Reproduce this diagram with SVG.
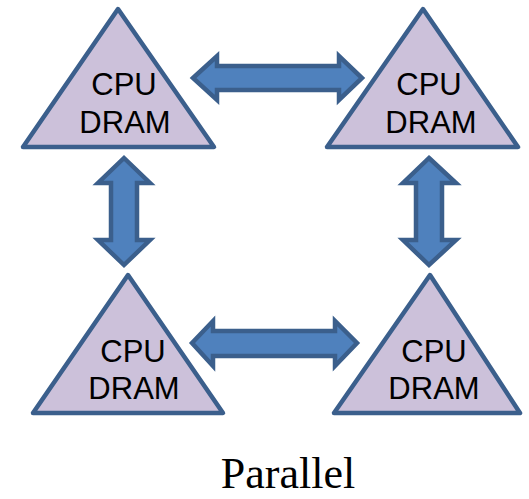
<svg xmlns="http://www.w3.org/2000/svg" width="529" height="499" viewBox="0 0 529 499">
<style>
.tri{fill:#ccc1da;stroke:#3b5f8c;stroke-width:4.5;stroke-linejoin:round}
.arr{fill:#4f81bd;stroke:#3b5f8c;stroke-width:4.5;stroke-linejoin:miter}
.lbl{font-family:"Liberation Sans",Arial,sans-serif;font-size:31px;fill:#000;text-anchor:middle}
.cap{font-family:"Liberation Serif","Times New Roman",serif;font-size:44px;fill:#000;text-anchor:middle}
</style>
<rect width="529" height="499" fill="#fff"/>
<g id="connectors">
<path class="arr" d="M193,78 L217,56 L217,66 L339,66 L339,56 L362,78 L339,100 L339,90 L217,90 L217,100 Z"/>
<path class="arr" d="M192,343 L213,321 L213,331 L335,331 L335,321 L357,343 L335,366 L335,356 L213,356 L213,366 Z"/>
<path class="arr" d="M124,158 L150,183 L137,183 L137,240 L150,240 L124,265 L98,240 L111,240 L111,183 L98,183 Z"/>
<path class="arr" d="M429,158 L456,183 L442,183 L442,240 L456,240 L429,265 L403,240 L416,240 L416,183 L403,183 Z"/>
</g>
<g id="node-tl">
<polygon class="tri" points="118,9 214,147 23,147"/>
<text class="lbl" x="124" y="95">CPU</text>
<text class="lbl" x="125" y="133">DRAM</text>
</g>
<g id="node-tr">
<polygon class="tri" points="423,9 518,147 327,147"/>
<text class="lbl" x="429" y="95">CPU</text>
<text class="lbl" x="431" y="133">DRAM</text>
</g>
<g id="node-bl">
<polygon class="tri" points="128,275 223,413 33,413"/>
<text class="lbl" x="133" y="362">CPU</text>
<text class="lbl" x="134" y="399">DRAM</text>
</g>
<g id="node-br">
<polygon class="tri" points="430,275 520,413 334,413"/>
<text class="lbl" x="434" y="362">CPU</text>
<text class="lbl" x="434" y="399">DRAM</text>
</g>
<text class="cap" x="288" y="488">Parallel</text>
</svg>
